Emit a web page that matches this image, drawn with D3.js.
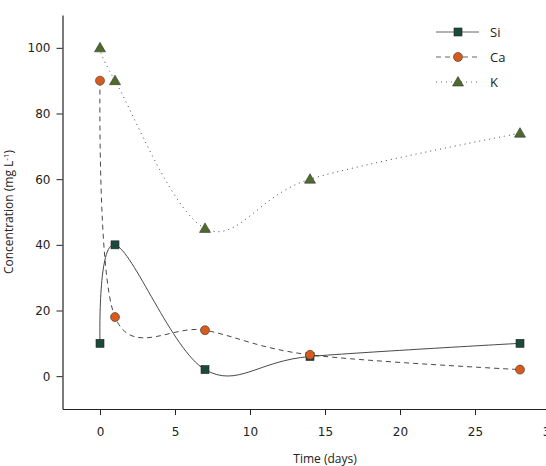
<!DOCTYPE html>
<html>
<head>
<meta charset="utf-8">
<script src="https://cdn.jsdelivr.net/npm/d3@7"></script>
<style>
  body { margin: 0; background: #fff; }
  svg { display: block; }
  .tick text { font-family: "DejaVu Sans", sans-serif; font-size: 12px; fill: #222; }
  .axis-label { font-family: "Open Sans", sans-serif; font-size: 12px; fill: #222; }
  .legend text { font-family: "Open Sans", sans-serif; font-size: 13px; fill: #222; }
</style>
</head>
<body>
<div id="chart"></div>
<script>
// ---- Data ----
const days = [0, 1, 7, 14, 28];
const si = [10, 40, 2, 6, 10];
const ca = [90, 18, 14, 6.5, 2];
const k = [100, 90, 45, 60, 74];
const xTicks = [0, 5, 10, 15, 20, 25, 30];
const yTicks = [0, 20, 40, 60, 80, 100];

const width = 546, height = 466;

const xScale = d3.scaleLinear().domain([-2.5, 30]).range([62.5, 550]);
const yScale = d3.scaleLinear().domain([-10, 110]).range([409, 15]);

const svg = d3.select("#chart").append("svg")
    .attr("width", width)
    .attr("height", height);

// ---- Series ----
const series = [
    { name: "Si", values: si, dash: null, shape: "square", fill: "#1b4a3d" },
    { name: "Ca", values: ca, dash: "5,4", shape: "circle", fill: "#d95a1c" },
    { name: "K", values: k, dash: "1,4", shape: "triangle", fill: "#506a2c" }
];

const line = d3.line()
    .x(d => xScale(d[0]))
    .y(d => yScale(d[1]))
    .curve(d3.curveCatmullRom.alpha(0));

function drawMarker(g, shape, fill) {
    if (shape === "square") {
        g.append("rect").attr("x", -4).attr("y", -4).attr("width", 8).attr("height", 8)
            .attr("fill", fill).attr("stroke", "#222").attr("stroke-width", 0.6);
    } else if (shape === "circle") {
        g.append("circle").attr("r", 4.5)
            .attr("fill", fill).attr("stroke", "#333").attr("stroke-width", 0.6);
    } else {
        g.append("path").attr("d", "M0,-5.5L5.5,4L-5.5,4Z")
            .attr("fill", fill).attr("stroke", "#333").attr("stroke-width", 0.6);
    }
}

series.forEach(s => {
    const pts = days.map((d, i) => [d, s.values[i]]);
    svg.append("path")
        .datum(pts)
        .attr("fill", "none")
        .attr("stroke", "#333")
        .attr("stroke-width", 0.9)
        .attr("stroke-dasharray", s.dash)
        .attr("d", line);
});

series.forEach(s => {
    const pts = days.map((d, i) => [d, s.values[i]]);
    svg.selectAll(".pt-" + s.name)
        .data(pts)
        .join("g")
        .attr("class", "pt-" + s.name)
        .attr("transform", d => `translate(${xScale(d[0])},${yScale(d[1])})`)
        .each(function() { drawMarker(d3.select(this), s.shape, s.fill); });
});

// ---- Axes ----
const xAxis = svg.append("g")
    .attr("transform", `translate(0,${yScale(-10)})`)
    .call(d3.axisBottom(xScale).tickValues(xTicks).tickSize(6).tickPadding(12).tickSizeOuter(0));
const yAxis = svg.append("g")
    .attr("transform", `translate(${xScale(-2.5)},0)`)
    .call(d3.axisLeft(yScale).tickValues(yTicks).tickSize(6).tickPadding(6).tickSizeOuter(0));
[xAxis, yAxis].forEach(a => {
    a.select(".domain").attr("stroke", "#222").attr("stroke-width", 1.2);
    a.selectAll(".tick line").attr("stroke", "#222");
});

svg.append("text")
    .attr("class", "axis-label")
    .attr("x", 325)
    .attr("y", 463)
    .attr("text-anchor", "middle")
    .text("Time (days)");

const yl = svg.append("text")
    .attr("class", "axis-label")
    .attr("transform", `translate(13,${yScale(50)}) rotate(-90)`)
    .attr("text-anchor", "middle");
yl.append("tspan").text("Concentration (mg L");
yl.append("tspan").attr("dy", -4).style("font-size", "8px").text("-1");
yl.append("tspan").attr("dy", 4).text(")");

// ---- Legend ----
const legend = svg.append("g").attr("class", "legend")
    .attr("transform", "translate(436,32)");
const item = legend.selectAll("g")
    .data(series)
    .join("g")
    .attr("transform", (d, i) => `translate(0,${i * 25})`);
item.append("line")
    .attr("x1", 0).attr("x2", 43)
    .attr("stroke", "#555")
    .attr("stroke-width", 0.9)
    .attr("stroke-dasharray", d => d.dash);
item.append("g")
    .attr("transform", "translate(22,0)")
    .each(function(d) { drawMarker(d3.select(this), d.shape, d.fill); });
item.append("text")
    .attr("x", 54)
    .attr("y", 5)
    .text(d => d.name);
</script>
</body>
</html>
